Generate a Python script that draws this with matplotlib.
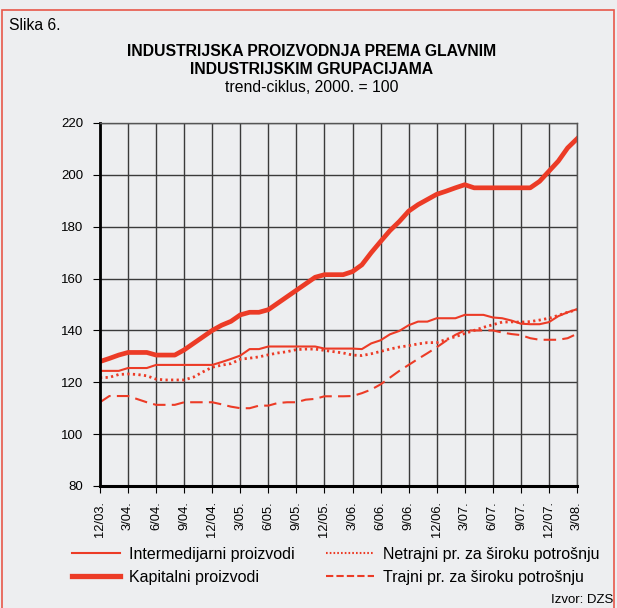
import matplotlib
matplotlib.use("Agg")
import matplotlib.pyplot as plt
from matplotlib.patches import Rectangle
from matplotlib.lines import Line2D

plt.rcParams['font.family'] = ['Liberation Sans', 'DejaVu Sans']

# mjesecni podaci 12/03. - 3/08.
tick_labels = ["12/03.", "3/04.", "6/04.", "9/04.", "12/04.", "3/05.", "6/05.", "9/05.", "12/05.",
               "3/06.", "6/06.", "9/06.", "12/06.", "3/07.", "6/07.", "9/07.", "12/07.", "3/08."]

intermedijarni = [124.4, 124.4, 124.4, 125.5, 125.5, 125.5, 126.7, 126.7, 126.7, 126.7, 126.7, 126.7,
                  126.7, 127.8, 129.0, 130.3, 132.8, 132.8, 133.8, 133.8, 133.8, 133.8, 133.8, 133.8,
                  133.0, 133.0, 133.0, 133.0, 132.8, 135.0, 136.2, 138.5, 139.8, 142.0, 143.4, 143.4,
                  144.7, 144.7, 144.7, 146.0, 146.0, 146.0, 145.0, 144.7, 143.8, 142.6, 142.4, 142.4,
                  143.2, 145.5, 147.0, 148.2]
kapitalni = [128.0, 129.2, 130.5, 131.5, 131.5, 131.5, 130.5, 130.5, 130.5, 132.5, 135.0, 137.5,
             140.0, 142.0, 143.5, 146.0, 147.0, 147.0, 148.0, 150.5, 153.0, 155.5, 158.0, 160.5,
             161.5, 161.5, 161.5, 162.7, 165.3, 170.0, 174.3, 178.5, 182.0, 186.0, 188.5, 190.5,
             192.5, 193.7, 195.0, 196.2, 195.0, 195.0, 195.0, 195.0, 195.0, 195.0, 195.0, 197.5,
             201.4, 205.3, 210.4, 213.9]
netrajni = [121.8, 121.9, 123.0, 123.2, 123.0, 122.5, 121.2, 120.9, 120.9, 120.9, 122.0, 124.0,
            125.8, 126.6, 127.2, 128.9, 129.3, 129.8, 130.6, 131.3, 131.8, 132.6, 132.8, 132.8,
            132.3, 131.8, 131.3, 130.5, 130.3, 131.0, 131.9, 132.8, 133.6, 134.1, 134.8, 135.3,
            135.3, 136.5, 137.6, 138.8, 140.0, 141.2, 142.2, 143.2, 143.3, 143.2, 143.4, 144.0,
            144.7, 145.8, 147.0, 148.0]
trajni = [112.3, 114.7, 114.7, 114.7, 113.5, 112.3, 111.3, 111.3, 111.3, 112.3, 112.3, 112.3,
          112.3, 111.5, 110.6, 110.0, 110.0, 111.0, 111.0, 112.0, 112.3, 112.3, 113.3, 113.6,
          114.6, 114.6, 114.6, 114.7, 115.8, 117.2, 119.2, 121.8, 124.4, 126.7, 129.0, 131.2,
          133.5, 136.0, 138.3, 140.0, 140.0, 140.0, 140.0, 139.2, 138.6, 138.2, 137.0, 136.4,
          136.4, 136.4, 137.0, 138.7]

crvena = '#EC3B26'
pozadina = '#EDEEF0'

fig = plt.figure(figsize=(6.17, 6.08), dpi=100)
fig.patch.set_facecolor(pozadina)
# okvir slike
fig.patches.append(Rectangle((2 / 617, -0.05), 612 / 617, 1.05 - 10 / 608, transform=fig.transFigure,
                             fill=False, edgecolor='#E8574A', linewidth=1.2))

ax = fig.add_axes([100 / 617, 1 - 486 / 608, 477 / 617, 363 / 608])
ax.set_facecolor(pozadina)

x = list(range(len(kapitalni)))
ax.plot(x, intermedijarni, color=crvena, lw=1.5, solid_joinstyle='round')
ax.plot(x, kapitalni, color=crvena, lw=3.4, solid_joinstyle='round')
ax.plot(x, netrajni, color=crvena, lw=2.0, linestyle=(0, (0.8, 1.2)))
ax.plot(x, trajni, color=crvena, lw=1.5, linestyle=(0, (6, 3)))

ax.set_xlim(0, len(x) - 1)
ax.set_ylim(80, 220)
ax.set_yticks(range(80, 221, 20))
ax.set_xticks(range(0, len(x), 3))
ax.set_xticklabels(tick_labels, rotation=90, fontsize=9.3)
ax.tick_params(axis='y', labelsize=9.5, length=5, width=0.8, direction='out', pad=7)
ax.tick_params(axis='x', length=5, width=0.8, direction='out', pad=6)
ax.grid(True, color='#3a3a3a', lw=1.0)
ax.set_axisbelow(True)
for s in ['top', 'right']:
    ax.spines[s].set_color('#555555')
    ax.spines[s].set_linewidth(1.0)
ax.spines['left'].set_linewidth(2.0)
ax.spines['bottom'].set_linewidth(2.2)

fig.text(9 / 617, 1 - 26 / 608, "Slika 6.", fontsize=11.3, va='center', ha='left')
fig.text(312 / 617, 1 - 52 / 608, "INDUSTRIJSKA PROIZVODNJA PREMA GLAVNIM", fontsize=11.3,
         fontweight='bold', ha='center', va='center')
fig.text(312 / 617, 1 - 69 / 608, "INDUSTRIJSKIM GRUPACIJAMA", fontsize=11.3,
         fontweight='bold', ha='center', va='center')
fig.text(312 / 617, 1 - 87 / 608, "trend-ciklus, 2000. = 100", fontsize=11.3,
         ha='center', va='center')

handles = [Line2D([], [], color=crvena, lw=1.5),
           Line2D([], [], color=crvena, lw=3.8),
           Line2D([], [], color=crvena, lw=1.5, linestyle=(0, (0.8, 1.0))),
           Line2D([], [], color=crvena, lw=1.5, linestyle=(0, (3.5, 1.5)))]
labels = ["Intermedijarni proizvodi", "Kapitalni proizvodi",
          "Netrajni pr. za široku potrošnju", "Trajni pr. za široku potrošnju"]
fig.legend(handles, labels, ncol=2, loc='center left', bbox_to_anchor=(72 / 617, 1 - 566 / 608),
           frameon=False, fontsize=11.5, handlelength=3.0, handletextpad=0.55,
           columnspacing=2.0, labelspacing=0.5, borderpad=0, borderaxespad=0)

fig.text(613 / 617, 1 - 600 / 608, "Izvor: DZS", fontsize=9.5, ha='right', va='center')

fig.savefig("out.png", dpi=100, facecolor=fig.get_facecolor())
